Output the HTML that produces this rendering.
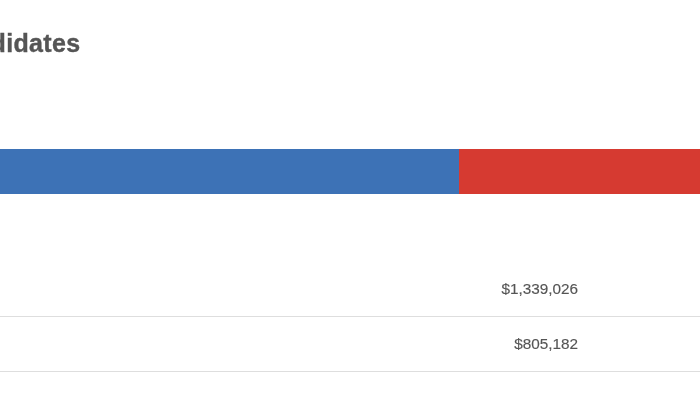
<!DOCTYPE html>
<html><head><meta charset="utf-8">
<style>
html,body{margin:0;padding:0;background:#fff;}
body{width:700px;height:400px;position:relative;overflow:hidden;font-family:"Liberation Sans",sans-serif;}
h2{position:absolute;left:-110px;top:25px;margin:0;font-size:25px;line-height:36px;font-weight:bold;color:#555;white-space:nowrap;letter-spacing:0.35px;-webkit-text-stroke:0.4px #555;}
.bar{position:absolute;left:0;top:149px;height:45px;width:700px;background:#d63a31;}
.bar .b{position:absolute;left:0;top:0;height:45px;width:459px;background:#3d72b6;}
.line{position:absolute;left:0;width:700px;height:1px;background:#dedede;}
.amt{position:absolute;right:122px;width:200px;text-align:right;font-size:15.3px;line-height:20px;color:#555;-webkit-text-stroke:0.15px #555;white-space:nowrap;}
</style></head><body>
<h2>Top Candidates</h2>
<div class="bar"><div class="b"></div></div>
<div class="amt" style="top:279px">$1,339,026</div>
<div class="line" style="top:316px"></div>
<div class="amt" style="top:334px">$805,182</div>
<div class="line" style="top:371px"></div>
</body></html>
